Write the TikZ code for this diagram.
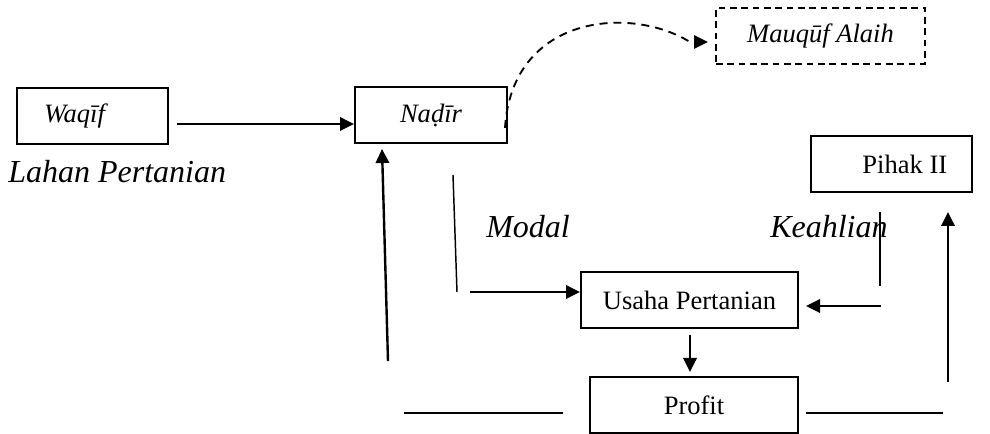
\documentclass[tikz,border=0pt]{standalone}
\usepackage{fontspec}
\setmainfont{Liberation Serif}
\usetikzlibrary{arrows.meta}
\begin{document}
\begin{tikzpicture}[x=0.75pt,y=-0.75pt,
 box/.style={draw,line width=1.5pt,minimum height=42pt,inner sep=0pt,font=\fontsize{19.9}{22}\selectfont},
 dbox/.style={box,dash pattern=on 5pt off 3.5pt},
 lbl/.style={font=\fontsize{24}{28}\selectfont\itshape,anchor=base west,inner sep=0pt},
 arr/.style={line width=1.8pt,-{Triangle[length=10.5pt,width=10pt]}},
 dline/.style={line width=1.4pt,dash pattern=on 6pt off 4.5pt,-{Triangle[length=10.5pt,width=10pt]}},
 thinline/.style={line width=1.1pt}]
\useasboundingbox (0,0) rectangle (990,434);
% boxes
\node[box,minimum width=113.25pt] (waqif) at (92.5,116) {\itshape Waqīf\hspace*{27pt}};
\node[box,minimum width=114pt] (nadir) at (431,115) {\itshape Naḍīr};
\node[dbox,minimum width=156.75pt] (mauquf) at (820.5,36) {\itshape Mauqūf Alaih};
\node[box,minimum width=120.75pt] (pihak) at (891.5,164) {\hspace*{20pt}Pihak II};
\node[box,minimum width=162.75pt] (usaha) at (689.5,300) {Usaha Pertanian};
\node[box,minimum width=156pt] (profit) at (694,405) {Profit};
% labels
\node[lbl] (lahan) at (8,183) {Lahan Pertanian};
\node[lbl] (modal) at (486,238) {Modal};
\node[lbl] (keahlian) at (770,238) {Keahlian};
% coordinates
\coordinate (wa) at (177,124);
\coordinate (dstart) at (505,128);
\coordinate (dend) at (708,42);
\coordinate (mtop) at (453,175);
\coordinate (mbot) at (457,292);
\coordinate (marr) at (470,292);
\coordinate (ktop) at (880,212);
\coordinate (kbot) at (880,286);
\coordinate (karr) at (881,306);
\coordinate (utip) at (806,306);
\coordinate (lbot) at (388,361);
\coordinate (ltip) at (382,149);
\coordinate (rbot) at (948,382);
\coordinate (rtip) at (948,212);
\coordinate (bl1) at (404,413);
\coordinate (bl2) at (563,413);
\coordinate (br1) at (806,413);
\coordinate (br2) at (943,413);
\coordinate (dtop) at (690,335);
\coordinate (dtip) at (690,372);
% connectors
\draw[arr] (wa) -- (wa -| nadir.west);
\draw[dline] (dstart) .. controls (512,15) and (630,5) .. (690,42) -- (dend);
\draw[thinline] (mtop) -- (mbot);
\draw[arr] (marr) -- (marr -| usaha.west);
\draw[thinline] (ktop) -- (kbot);
\draw[arr] (karr) -- (utip);
\draw[arr] (dtop) -- (dtip);
\draw[arr] (lbot) -- (ltip);
\draw[arr] (rbot) -- (rtip);
\draw[line width=1.8pt] (bl1) -- (bl2);
\draw[line width=1.8pt] (br1) -- (br2);
\end{tikzpicture}
\end{document}
